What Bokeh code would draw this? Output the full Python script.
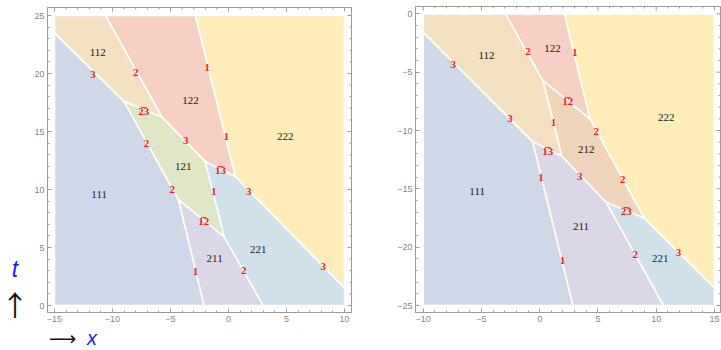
from bokeh.plotting import figure
from bokeh.layouts import row, column
from bokeh.models import FixedTicker, Range1d, ColumnDataSource, Div
from bokeh.core.properties import value
from bokeh.embed import file_html
from bokeh.resources import INLINE

B1 = "1\u0305"
B2 = "2\u0305"

# ---------------- data: left panel (x from -15 to 10, t from 0 to 25) ----------------
left_names = ["111", "112", "122", "222", "121", "211", "221"]
left_xs = [
    [-15, -15, -9.0, -4.3, -2.1],
    [-15, -15, -10.6, -5.7, -9.0],
    [-10.6, -2.85, 0.6, -2.0, -5.7],
    [-2.85, 10, 10, 0.6],
    [-9.0, -5.7, -2.0, -0.35, -4.3],
    [-4.3, -0.35, 3.0, -2.1],
    [-0.35, -2.0, 0.6, 10, 10, 3.0],
]
left_ts = [
    [0, 23.5, 17.6, 9.1, 0],
    [23.5, 25, 25, 16.2, 17.6],
    [25, 25, 11.1, 12.4, 16.2],
    [25, 25, 1.5, 11.1],
    [17.6, 16.2, 12.4, 5.9, 9.1],
    [9.1, 5.9, 0, 0],
    [5.9, 12.4, 11.1, 1.5, 0, 0],
]
left_region_label_x = [-11.15, -11.27, -3.28, 4.9, -3.9, -1.2, 2.56]
left_region_label_t = [9.54, 21.8, 17.7, 14.6, 12.0, 4.08, 4.85]

left_edge_text = ["3", "2", "1", B2 + "3", "2", "3", "1", B1 + "3", "2", "1", "3", B1 + "2", "1", "2", "3"]
left_edge_x = [-11.67, -8.0, -1.84, -7.3, -7.07, -3.68, -0.2, -0.69, -4.85, -1.27, 1.75, -2.13, -2.84, 1.32, 8.16]
left_edge_t = [19.9, 20.1, 20.5, 16.75, 14.0, 14.2, 14.57, 11.64, 9.97, 9.85, 9.85, 7.27, 2.93, 3.0, 3.36]

left_x_ticks = [-15, -10, -5, 0, 5, 10]
left_t_ticks = [0, 5, 10, 15, 20, 25]

# ---------------- data: right panel (x from -10 to 15, t from -25 to 0) ----------------
right_names = ["111", "112", "122", "222", "212", "211", "221"]
right_xs = [
    [-10, -10, -0.6, 2.86],
    [-10, -2.94, 0.29, 1.92, -0.6, -10],
    [-2.94, 2.12, 4.35, 0.29],
    [2.12, 15, 15, 8.98, 4.35],
    [0.29, 4.35, 8.98, 5.72, 1.92],
    [-0.6, 1.92, 5.72, 10.63, 2.86],
    [5.72, 8.98, 15, 15, 10.63],
]
right_ts = [
    [-25, -1.58, -10.95, -25],
    [0, 0, -5.72, -12.24, -10.95, -1.58],
    [0, 0, -9.06, -5.72],
    [0, 0, -23.5, -17.53, -9.06],
    [-5.72, -9.06, -17.53, -16.16, -12.24],
    [-10.95, -12.24, -16.16, -25, -25],
    [-16.16, -17.53, -23.5, -25, -25],
]
right_region_label_x = [-5.37, -4.57, 1.09, 10.87, 4.0, 3.55, 10.35]
right_region_label_t = [-15.2, -3.6, -2.95, -8.87, -11.6, -18.2, -20.93]

right_edge_text = ["3", "2", "1", B1 + "2", "3", "1", "2", B1 + "3", "1", "3", "2", B2 + "3", "1", "2", "3"]
right_edge_x = [-7.43, -1.0, 3.0, 2.4, -2.54, 1.18, 4.86, 0.69, 0.12, 3.43, 7.12, 7.44, 1.95, 8.2, 11.92]
right_edge_t = [-4.35, -3.2, -3.29, -7.5, -9.0, -9.3, -10.07, -11.78, -14.07, -13.93, -14.18, -16.93, -21.1, -20.67, -20.47]

right_x_ticks = [-10, -5, 0, 5, 10, 15]
right_t_ticks = [-25, -20, -15, -10, -5, 0]

region_colors = {
    "111": "#cfd8e8",
    "112": "#f3e0c1",
    "122": "#f7d0c5",
    "222": "#feecb9",
    "121": "#dee6c6",
    "211": "#dcd7e8",
    "221": "#d0e1ec",
    "212": "#eed4bb",
}

FRAME = "#9a9a9a"
TICKLBL = "#858585"


def fmt(v):
    return ("\u2212" + str(-v)) if v < 0 else str(v)


def style_axes(p, xt, tt, xlo, xhi, tlo, thi, fw, fh):
    xminor = list(range(xlo - 1, xhi + 2))
    tminor = list(range(tlo - 1, thi + 2))
    for ax in p.axis:
        ax.axis_line_color = FRAME
        ax.major_tick_line_color = FRAME
        ax.minor_tick_line_color = FRAME
        ax.major_tick_in = 4
        ax.major_tick_out = 0
        ax.minor_tick_in = 2
        ax.minor_tick_out = 0
        ax.major_label_text_color = TICKLBL
        ax.major_label_text_font = "Liberation Sans"
        ax.major_label_text_font_size = "9px"
        ax.major_label_standoff = 3
    p.xaxis.ticker = FixedTicker(ticks=xt, minor_ticks=xminor)
    p.xaxis.major_label_overrides = {v: fmt(v) for v in xt}
    p.yaxis.ticker = FixedTicker(ticks=tt, minor_ticks=tminor)
    p.yaxis.major_label_overrides = {v: fmt(v) for v in tt}
    # mirrored inward ticks on the top and right frame edges
    xr, yr = p.x_range, p.y_range
    ux = (xr.end - xr.start) / fw
    uy = (yr.end - yr.start) / fh
    xmaj = [v for v in xminor if v in xt]
    xmin_ = [v for v in xminor if v not in xt and xr.start < v < xr.end]
    tmaj = [v for v in tminor if v in tt]
    tmin_ = [v for v in tminor if v not in tt and yr.start < v < yr.end]
    for vals, L in ((xmaj, 4), (xmin_, 2)):
        p.segment(x0=vals, y0=[yr.end] * len(vals), x1=vals, y1=[yr.end - L * uy] * len(vals),
                  line_color=FRAME, line_width=1)
    for vals, L in ((tmaj, 4), (tmin_, 2)):
        p.segment(x0=[xr.end] * len(vals), y0=vals, x1=[xr.end - L * ux] * len(vals), y1=vals,
                  line_color=FRAME, line_width=1)


def draw(p, names, xs, ts, rlx, rlt, et, ex, ey):
    src = ColumnDataSource(dict(xs=xs, ys=ts, c=[region_colors[n] for n in names]))
    p.patches("xs", "ys", source=src, fill_color="c", line_color="white", line_width=1.6)
    p.text(x=rlx, y=rlt, text=names, text_font=value("Liberation Serif"), text_font_size="11px",
           text_color="#1a1a1a", text_align="center", text_baseline="middle")
    p.text(x=ex, y=ey, text=et, text_font=value("Liberation Serif"), text_font_size="11px",
           text_font_style="bold", text_color="#f01c1c", text_align="center", text_baseline="middle")


# left figure: frame 47..351 x 7..312 on the page
p1 = figure(width=330, height=327, output_backend="svg", toolbar_location=None,
            x_range=Range1d(-15.6, 10.6), y_range=Range1d(-0.6, 25.69),
            min_border_left=17, min_border_right=9, min_border_top=7, min_border_bottom=15)
# right figure: frame 415..720 x 6..312 on the page
p2 = figure(width=361, height=350, output_backend="svg", toolbar_location=None,
            x_range=Range1d(-10.66, 15.52), y_range=Range1d(-25.6, 0.63),
            min_border_left=55, min_border_right=1, min_border_top=6, min_border_bottom=38)

for p in (p1, p2):
    p.grid.visible = False
    p.outline_line_color = FRAME
    p.background_fill_color = "white"
    p.border_fill_color = "white"

draw(p1, left_names, left_xs, left_ts, left_region_label_x, left_region_label_t,
     left_edge_text, left_edge_x, left_edge_t)
draw(p2, right_names, right_xs, right_ts, right_region_label_x, right_region_label_t,
     right_edge_text, right_edge_x, right_edge_t)

style_axes(p1, left_x_ticks, left_t_ticks, -15, 10, 0, 25, 304, 305)
style_axes(p2, right_x_ticks, right_t_ticks, -10, 15, -25, 0, 305, 306)

ARROW_FONT = "'Noto Sans CJK JP', 'DejaVu Sans'"
# axis annotations "t ↑" (left of the first frame) and "→ x" (below it)
div_t = Div(width=30, height=327, margin=0, text=(
    '<div style="position:relative;width:30px;height:327px;overflow:hidden;">'
    '<div style="position:absolute;left:0;top:258px;width:30px;text-align:center;'
    'font:italic 23px/1 \'Liberation Sans\';color:#1a1aff;">t</div>'
    '<div style="position:absolute;left:0;top:290px;width:30px;text-align:center;'
    'font:28px/1 ' + ARROW_FONT + ';color:#111111;">\u2191</div>'
    '</div>'))
div_x = Div(width=360, height=23, margin=0, text=(
    '<div style="position:relative;width:360px;height:23px;overflow:hidden;">'
    '<div style="position:absolute;left:49px;top:0;'
    'font:19px/normal \'DejaVu Sans\';color:#111111;">\u27f6</div>'
    '<div style="position:absolute;left:87px;top:0;'
    'font:italic 20px/normal \'Liberation Sans\';color:#1a1aff;">x</div>'
    '</div>'))

layout = row(column(row(div_t, p1), div_x), p2)
open("out.html", "w").write(file_html(layout, INLINE))
